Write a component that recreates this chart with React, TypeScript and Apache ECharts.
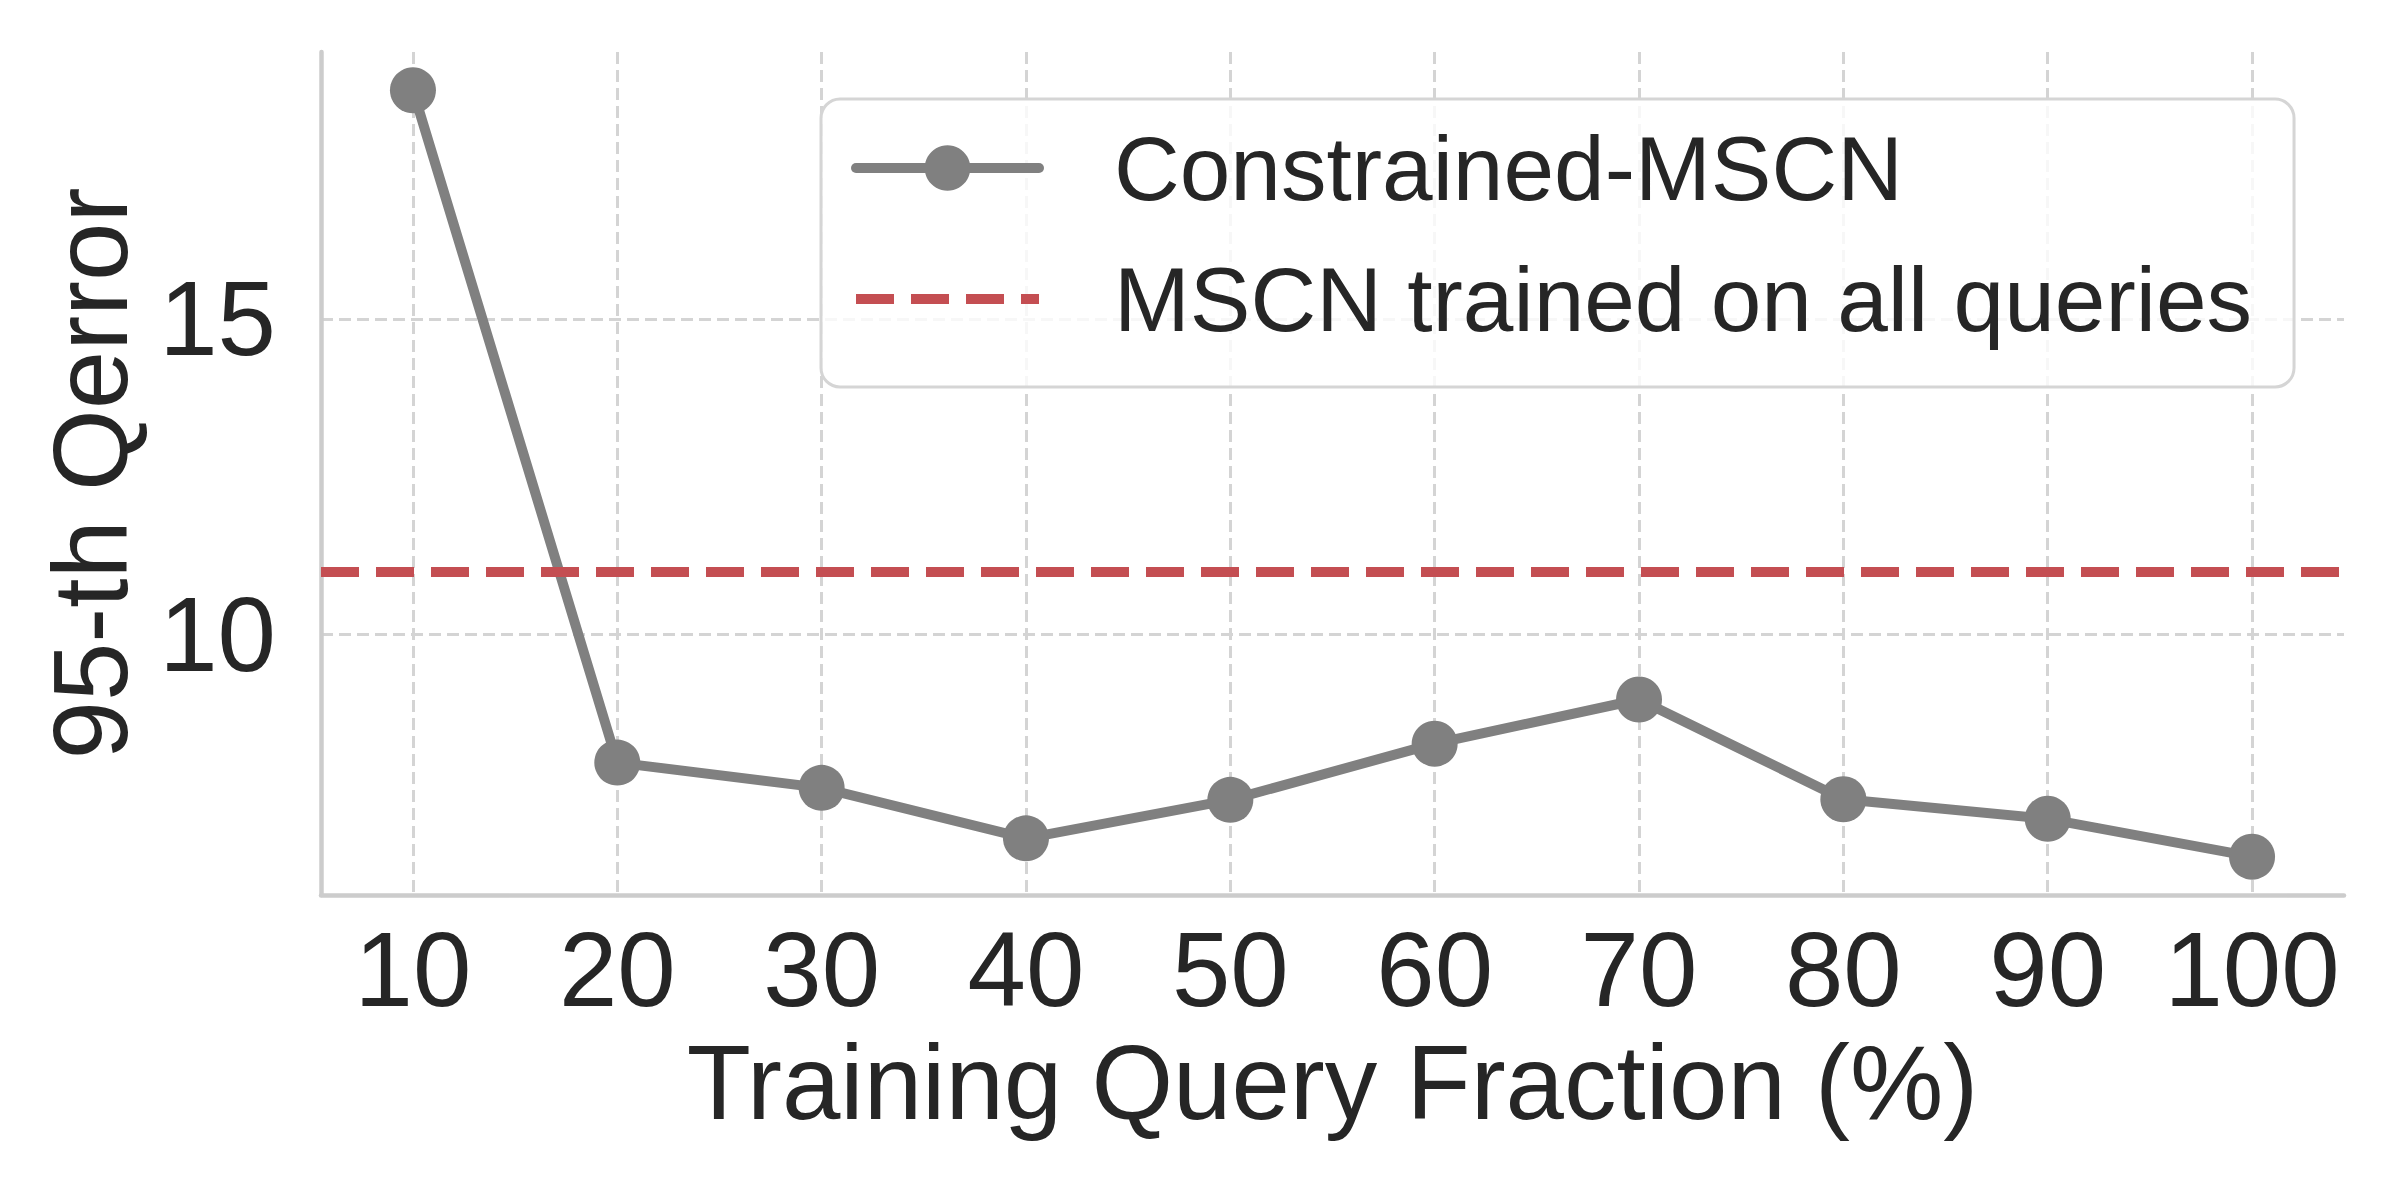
import React, { useEffect, useRef } from "react";
import * as echarts from "echarts";

const fractions = [10, 20, 30, 40, 50, 60, 70, 80, 90, 100];
const constrainedErrors = [18.62, 7.97, 7.57, 6.77, 7.38, 8.27, 8.97, 7.39, 7.08, 6.48];
const fullBaseline = 11.0;
const seriesNames = ["Constrained-MSCN", "MSCN trained on all queries"];
const xAxisTitle = "Training Query Fraction (%)";
const yAxisTitle = "95-th Qerror";

const FONT = "'Liberation Sans', Arial, Helvetica, sans-serif";
const TEXT = "#262626";
const GRIDC = "#d4d4d4";
const SPINE = "#cccccc";
const GRAY = "#808080";
const RED = "#C44E52";
const DASH = [38, 17];

export default function App() {
  const ref = useRef<HTMLDivElement | null>(null);
  useEffect(() => {
    document.body.style.margin = "0";
    if (!ref.current) return;
    const chart = echarts.init(ref.current, undefined, { renderer: "svg" });

    const xLo = Math.min(...fractions);
    const xHi = Math.max(...fractions);
    const xPad = (xHi - xLo) * 0.05;
    const yLo = Math.min(...constrainedErrors, fullBaseline);
    const yHi = Math.max(...constrainedErrors, fullBaseline);
    const yPad = (yHi - yLo) * 0.05;

    const splitLine = {
      show: true,
      showMinLine: false,
      showMaxLine: false,
      lineStyle: { color: GRIDC, width: 3, type: [12, 6] },
    };

    chart.setOption({
      animation: false,
      backgroundColor: "#ffffff",
      grid: {
        left: 321,
        right: 56,
        top: 52,
        bottom: 305,
        containLabel: false,
        outerBoundsMode: "none",
      },
      legend: {
        orient: "vertical",
        left: 821,
        top: 99,
        padding: [19, 42, 38, 30],
        itemGap: 31,
        itemWidth: 183,
        itemHeight: 57,
        borderColor: "#d5d5d5",
        borderWidth: 3,
        borderRadius: 19,
        backgroundColor: "rgba(255,255,255,0.8)",
        textStyle: {
          fontFamily: FONT,
          fontSize: 91,
          color: TEXT,
          lineHeight: 100,
          padding: [0, 0, 0, 70],
        },
        data: [
          {
            name: seriesNames[0],
            itemStyle: { color: GRAY },
            lineStyle: { color: GRAY, width: 10, cap: "round", type: "solid" },
          },
          {
            name: seriesNames[1],
            itemStyle: { color: RED, opacity: 0 },
            lineStyle: { color: RED, width: 10, cap: "butt", type: DASH },
          },
        ],
      },
      xAxis: {
        type: "value",
        min: xLo - xPad,
        max: xHi + xPad,
        minInterval: 10,
        maxInterval: 10,
        name: xAxisTitle,
        nameLocation: "middle",
        nameGap: 135,
        nameTextStyle: { fontFamily: FONT, fontSize: 105, color: TEXT },
        axisLine: { show: true, lineStyle: { color: SPINE, width: 4.5 } },
        axisTick: { show: false },
        axisLabel: {
          show: true,
          showMinLabel: false,
          showMaxLabel: false,
          margin: 22,
          fontFamily: FONT,
          fontSize: 105,
          color: TEXT,
        },
        splitLine,
      },
      yAxis: {
        type: "value",
        min: yLo - yPad,
        max: yHi + yPad,
        minInterval: 5,
        maxInterval: 5,
        name: yAxisTitle,
        nameLocation: "middle",
        nameRotate: 90,
        nameGap: 178,
        nameTextStyle: { fontFamily: FONT, fontSize: 105, color: TEXT },
        axisLine: { show: true, lineStyle: { color: SPINE, width: 4.5 } },
        axisTick: { show: false },
        axisLabel: {
          show: true,
          showMinLabel: false,
          showMaxLabel: false,
          margin: 45,
          fontFamily: FONT,
          fontSize: 105,
          color: TEXT,
        },
        splitLine,
      },
      series: [
        {
          name: seriesNames[0],
          type: "line",
          data: fractions.map((f, i) => [f, constrainedErrors[i]]),
          symbol: "circle",
          symbolSize: 46,
          showSymbol: true,
          color: GRAY,
          itemStyle: { color: GRAY },
          lineStyle: { color: GRAY, width: 10, cap: "round", join: "round" },
          z: 3,
        },
        {
          name: seriesNames[1],
          type: "line",
          data: [],
          symbol: "none",
          color: RED,
          itemStyle: { color: RED },
          lineStyle: { color: RED, width: 10, type: DASH, cap: "butt" },
          markLine: {
            silent: true,
            symbol: ["none", "none"],
            label: { show: false },
            lineStyle: { color: RED, width: 10, type: DASH, cap: "butt" },
            data: [{ yAxis: fullBaseline }],
          },
          z: 2,
        },
      ],
    });
    return () => chart.dispose();
  }, []);
  return <div ref={ref} style={{ width: 2400, height: 1200 }} />;
}
